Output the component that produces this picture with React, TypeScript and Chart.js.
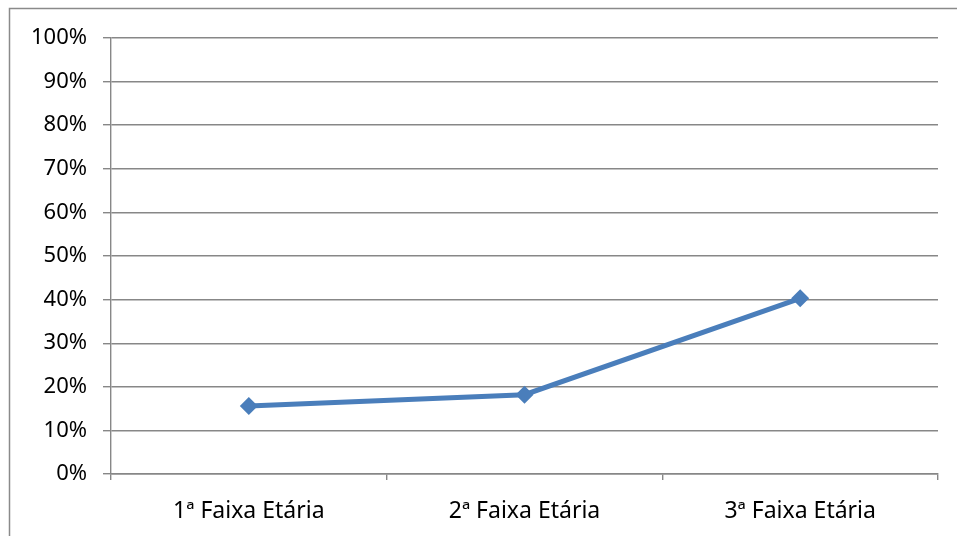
import React, { useEffect, useRef } from "react";
import { Chart, registerables } from "chart.js";

Chart.register(...registerables);

const categories = ["1ª Faixa Etária", "2ª Faixa Etária", "3ª Faixa Etária"];
const shareValues = [15.6, 18.2, 40.3];
const yTicks = [0, 10, 20, 30, 40, 50, 60, 70, 80, 90, 100];

const GRID = "#878787";
const LINE_BLUE = "#4a7ebb";
const FONT = "'Noto Sans', 'Open Sans', sans-serif";

// Thin frame around the chart object (left and top edges only show in the window)
const framePlugin = {
  id: "frame",
  beforeDraw(chart: Chart) {
    const ctx = chart.ctx;
    ctx.save();
    ctx.strokeStyle = "#8a8a8a";
    ctx.lineWidth = 1.5;
    ctx.beginPath();
    ctx.moveTo(9.5, chart.height);
    ctx.lineTo(9.5, 8.5);
    ctx.lineTo(chart.width, 8.5);
    ctx.stroke();
    ctx.restore();
  },
};

export default function App() {
  const canvasRef = useRef<HTMLCanvasElement | null>(null);

  useEffect(() => {
    const canvas = canvasRef.current;
    if (!canvas) return;
    const chart = new Chart(canvas, {
      type: "line",
      data: {
        labels: categories,
        datasets: [
          {
            data: shareValues,
            borderColor: LINE_BLUE,
            backgroundColor: LINE_BLUE,
            borderWidth: 5,
            pointStyle: "rectRot",
            pointRadius: 9,
            pointBorderWidth: 0,
            pointBackgroundColor: LINE_BLUE,
            tension: 0,
          },
        ],
      },
      options: {
        animation: false,
        responsive: false,
        devicePixelRatio: 1,
        layout: { padding: { left: 0, right: 19, top: 38, bottom: 0 } },
        plugins: { legend: { display: false }, tooltip: { enabled: false } },
        scales: {
          x: {
            offset: true,
            grid: {
              offset: true,
              drawOnChartArea: false,
              drawTicks: true,
              tickLength: 6,
              color: GRID,
              lineWidth: 1.4,
            },
            border: { display: true, color: GRID, width: 1.4 },
            ticks: {
              color: "#000",
              font: { family: FONT, size: 23 },
              padding: 18,
              maxRotation: 0,
            },
            afterFit(scale: any) {
              scale.height = 62;
            },
          },
          y: {
            min: 0,
            max: 100,
            afterBuildTicks(scale: any) {
              scale.ticks = yTicks.map((v) => ({ value: v }));
            },
            grid: { color: GRID, lineWidth: 1.4, tickLength: 8 },
            border: { display: true, color: GRID, width: 1.4 },
            ticks: {
              color: "#000",
              font: { family: FONT, size: 22 },
              padding: 16,
              callback: (v: any) => `${v}%`,
            },
            afterFit(scale: any) {
              scale.width = 111;
            },
          },
        },
      },
      plugins: [framePlugin],
    });
    return () => chart.destroy();
  }, []);

  return (
    <canvas
      ref={canvasRef}
      width={957}
      height={536}
      style={{ position: "fixed", left: 0, top: 0, width: 957, height: 536 }}
    />
  );
}
